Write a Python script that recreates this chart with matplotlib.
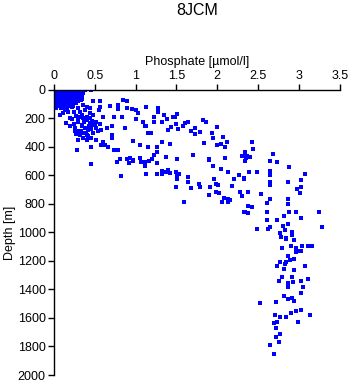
import matplotlib
matplotlib.use("Agg")
import matplotlib.pyplot as plt

plt.rcParams['font.family'] = ['Liberation Sans', 'DejaVu Sans']

# surface blob (0-140 m), dense
blob_p = [0.01, 0.04, 0.07, 0.11, 0.14, 0.17, 0.21, 0.24, 0.27, 0.31, 0.34,
          0.00, 0.03, 0.06, 0.10, 0.13, 0.16, 0.20, 0.23, 0.26, 0.30, 0.33, 0.36,
          0.01, 0.05, 0.08, 0.11, 0.15, 0.18, 0.22, 0.25, 0.28, 0.32, 0.35,
          0.00, 0.03, 0.07, 0.10, 0.14, 0.17, 0.20, 0.24, 0.27, 0.31, 0.34,
          0.02, 0.05, 0.09, 0.12, 0.16, 0.19, 0.23, 0.26, 0.30, 0.33,
          0.00, 0.04, 0.08, 0.11, 0.15, 0.19, 0.22, 0.27,
          0.01, 0.06, 0.10, 0.14, 0.18, 0.23,
          0.03, 0.09, 0.16]
blob_d = [3, 6, 2, 5, 8, 4, 3, 7, 2, 5, 4,
          22, 20, 25, 19, 23, 21, 24, 18, 22, 20, 25, 21,
          40, 38, 43, 41, 37, 42, 39, 44, 40, 38, 42,
          58, 61, 56, 60, 57, 62, 59, 55, 60, 58, 63,
          76, 73, 78, 75, 72, 77, 74, 79, 75, 71,
          95, 92, 97, 94, 98, 93, 96, 91,
          112, 115, 110, 113, 116, 111,
          130, 127, 133]

# upper scattered points (0-900 m)
upper_p = [0.38, 0.46, 0.48, 0.57, 0.55, 0.57, 0.69, 0.79, 0.84, 0.89, 0.79, 0.89,
           0.95, 1.01, 1.13, 1.03, 0.60, 0.73, 0.83, 1.09, 1.01, 1.13, 0.71, 0.65,
           0.87, 0.56, 0.58, 0.48, 0.71, 0.71, 0.46, 0.52, 0.60, 0.97, 1.05, 1.15,
           0.58, 0.62, 0.66, 0.46, 0.28, 0.79, 0.73, 0.81, 0.93, 0.97, 1.05, 0.77,
           0.46, 0.89, 0.03, 0.07, 0.13, 0.20, 0.15, 0.20, 0.26, 0.26, 0.30, 0.32,
           0.36, 0.40, 0.44, 0.44, 0.34, 0.38, 0.42, 0.30, 0.36, 0.40, 0.32, 0.36,
           0.30, 0.40, 0.24, 0.11, 0.24, 0.32, 0.38, 0.44, 0.48, 0.22, 0.30, 0.36,
           0.40, 0.44, 0.11, 0.17, 0.48, 0.52, 0.52,
           0.82, 1.13, 0.77, 0.92, 0.97, 1.07, 1.11, 1.12,
           0.27, 0.34, 0.41, 0.47, 0.22, 0.29, 0.37, 0.43, 0.50, 0.33, 0.39, 0.27,
           0.35, 0.45, 0.42, 0.54]
upper_d = [0, 0, 77, 75, 140, 117, 112, 105, 70, 77, 133, 124,
           133, 140, 117, 164, 187, 187, 187, 222, 203, 257, 257, 269,
           269, 241, 281, 304, 316, 339, 339, 351, 363, 358, 386, 398,
           386, 386, 398, 398, 421, 421, 421, 484, 477, 491, 477, 503,
           519, 484, 117, 175, 140, 199, 234, 257, 269, 292, 211, 187,
           199, 211, 199, 234, 257, 269, 281, 292, 304, 316, 316, 339,
           351, 351, 241, 164, 152, 152, 140, 164, 175, 117, 124, 105,
           117, 128, 124, 152, 246, 222, 269,
           604, 592, 508, 515, 496, 503, 531, 508,
           180, 175, 188, 215, 205, 228, 226, 250, 240, 290, 300, 310,
           245, 275, 325, 290]

# middle band (1.1-2.5 umol/l)
mid_p = [1.13, 1.27, 1.27, 1.35, 1.38, 1.23, 1.23, 1.32, 1.11, 1.46, 1.48, 1.51,
         1.50, 1.43, 1.40, 1.52, 1.58, 1.60, 1.64, 1.68, 1.73, 1.73, 1.79, 1.82,
         1.86, 1.94, 2.00, 1.95, 2.07, 2.12, 2.09, 2.05, 2.00, 1.84, 1.70, 1.42,
         1.32, 1.26, 1.26, 1.23, 1.20, 1.17, 1.26, 1.37, 1.51, 1.90, 2.09, 2.30,
         2.34, 1.11, 1.19, 1.15,
         1.26, 1.32, 1.32, 1.37, 1.40, 1.42, 1.49, 1.51, 1.51, 1.53, 1.64, 1.64,
         1.49, 1.68, 1.77, 1.79, 1.59, 1.90, 1.95, 2.05, 2.13, 1.96, 1.98, 2.01,
         1.91, 1.90, 1.99, 2.02, 2.18, 2.21, 2.27, 2.33, 2.28, 2.30, 2.06, 2.13,
         2.08, 2.16, 2.13, 2.33]
mid_d = [117, 128, 152, 175, 206, 192, 222, 227, 257, 192, 187, 171,
         239, 262, 281, 274, 257, 234, 227, 288, 269, 311, 297, 211,
         227, 304, 262, 339, 332, 367, 398, 379, 386, 374, 456, 381,
         367, 398, 433, 456, 484, 498, 515, 468, 484, 484, 475, 463,
         433, 508, 304, 304,
         589, 568, 589, 573, 561, 580, 573, 596, 627, 589, 608, 648,
         679, 690, 660, 683, 789, 491, 533, 557, 573, 625, 660, 667,
         683, 737, 714, 721, 674, 627, 596, 627, 714, 744, 784, 767,
         756, 772, 789, 854]

# deep water (2.3-3.3 umol/l)
deep_p = [2.43, 2.44, 2.34, 2.31, 2.36, 2.40, 2.35, 2.34, 2.68, 2.65, 2.73,
          2.48, 2.39, 2.33, 2.88, 2.64, 2.65, 2.65, 2.65, 2.86, 3.02, 3.07, 3.03,
          2.97, 3.01, 2.38, 2.53, 2.30, 2.64, 2.86, 2.86, 2.61, 2.37, 2.42, 2.34,
          2.38, 2.61, 2.88, 2.96, 2.82, 3.24, 3.03, 2.61, 2.73, 2.87, 2.81, 3.28,
          2.49, 2.62, 2.65, 2.83, 2.92, 2.77, 2.92, 2.78, 2.84,
          2.84, 2.94, 2.79, 2.90, 2.96, 3.04, 3.11, 3.16, 2.99, 3.03, 2.96, 2.86,
          2.89, 2.94, 2.84, 2.77, 2.73, 2.83, 3.07, 2.82, 2.94, 2.79, 2.92, 3.03,
          3.11, 2.75, 2.87, 2.93, 2.86, 3.05, 2.82, 3.02, 2.86, 2.91, 2.94, 2.72,
          2.52, 3.02, 2.96, 2.90, 3.13, 2.84, 2.77, 2.71, 2.73, 2.70, 2.99, 2.72,
          2.77, 2.72, 2.75, 2.65, 2.70]
deep_d = [363, 414, 437, 463, 463, 472, 480, 498, 451, 498, 503,
          573, 573, 620, 543, 566, 596, 644, 667, 644, 632, 589, 679,
          697, 721, 714, 733, 744, 767, 767, 800, 796, 814, 823, 854,
          865, 858, 854, 858, 882, 858, 900, 912, 912, 940, 954, 963,
          975, 975, 963, 982, 994, 1001, 1017, 1033, 1040,
          1045, 1052, 1106, 1093, 1106, 1095, 1093, 1095, 1130, 1130, 1139, 1163,
          1193, 1186, 1209, 1209, 1233, 1223, 1233, 1258, 1263, 1310, 1310, 1338,
          1329, 1340, 1357, 1350, 1385, 1380, 1444, 1427, 1467, 1462, 1481, 1486,
          1497, 1544, 1551, 1563, 1579, 1591, 1595, 1579, 1626, 1637, 1626, 1668,
          1715, 1731, 1766, 1790, 1855]

phosphate = blob_p + upper_p + mid_p + deep_p
depth = blob_d + upper_d + mid_d + deep_d

fig = plt.figure(figsize=(3.5, 3.84), dpi=100)
ax = fig.add_axes([0.154, 0.0234, 0.817, 0.7426])

ax.plot(phosphate, depth, 's', color='#0000ff', markersize=2.2,
        markeredgewidth=0, linestyle='none')

ax.set_xlim(0, 3.5)
ax.set_ylim(2000, 0)
ax.set_xticks([0, 0.5, 1, 1.5, 2, 2.5, 3, 3.5])
ax.set_xticklabels(['0', '0.5', '1', '1.5', '2', '2.5', '3', '3.5'])
ax.set_yticks(range(0, 2001, 200))

ax.xaxis.tick_top()
ax.xaxis.set_label_position('top')
ax.spines['right'].set_visible(False)
ax.spines['bottom'].set_visible(False)
for s in ('top', 'left'):
    ax.spines[s].set_linewidth(1.0)
ax.tick_params(axis='both', direction='out', length=4, width=1.0,
               labelsize=9, pad=2)

ax.set_xlabel('Phosphate [µmol/l]', fontsize=9, labelpad=3)
ax.set_ylabel('Depth [m]', fontsize=9, labelpad=1)

fig.text(0.563, 0.972, '8JCM', ha='center', va='center', fontsize=11.5)

fig.savefig('out.png', dpi=100)
